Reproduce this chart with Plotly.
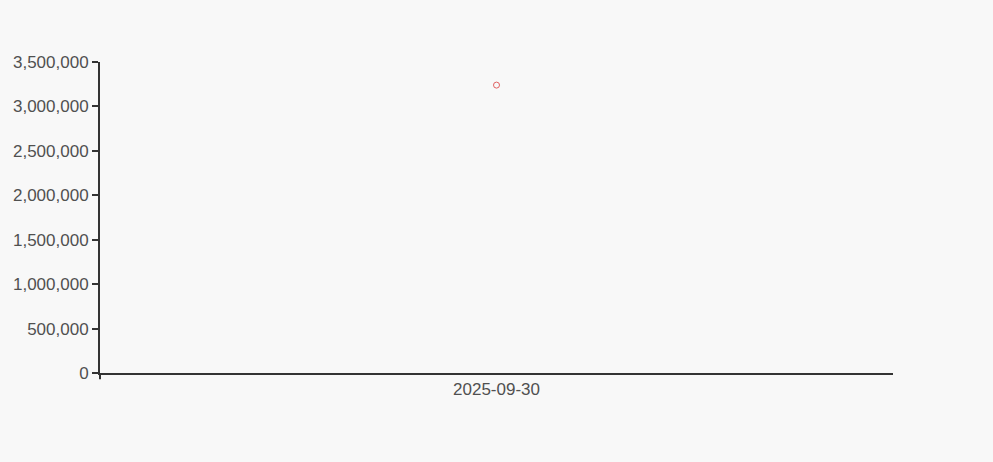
import plotly.graph_objects as go

dates = ["2025-09-30"]
values = [3240000]
y_ticks = [0, 500000, 1000000, 1500000, 2000000, 2500000, 3000000, 3500000]

fig = go.Figure()
fig.add_trace(go.Scatter(
    x=dates, y=values, mode="markers",
    marker=dict(symbol="circle-open", size=6, color="#e06060", line=dict(width=1, color="#e06060")),
    showlegend=False, hoverinfo="skip",
))

fig.update_layout(
    width=993, height=462,
    margin=dict(l=100, r=100, t=62, b=89),
    paper_bgcolor="#f8f8f8", plot_bgcolor="#f8f8f8",
    font=dict(family="Liberation Sans, Arial, sans-serif", size=17, color="#505050"),
    xaxis=dict(type="category", showgrid=False, zeroline=False, showline=True,
               linecolor="#333", linewidth=1.5, ticks="", ticklen=0,
               tickfont=dict(size=17, color="#505050")),
    yaxis=dict(range=[0, 3500000], tickvals=y_ticks, tickformat=",d",
               showgrid=False, zeroline=False, showline=True, linecolor="#333",
               linewidth=2, ticks="outside", ticklen=6, tickwidth=1.5, tickcolor="#333",
               tickfont=dict(size=17, color="#505050")),
    shapes=[dict(type="line", xref="paper", yref="paper", x0=0, x1=0, y0=0, y1=-0.02,
                 line=dict(color="#333", width=2))],
)

fig.write_html(
    "out.html",
    config={"displayModeBar": False},
    post_script="document.body.style.margin='0';document.body.style.background='#f8f8f8';document.body.style.overflow='hidden';",
)
